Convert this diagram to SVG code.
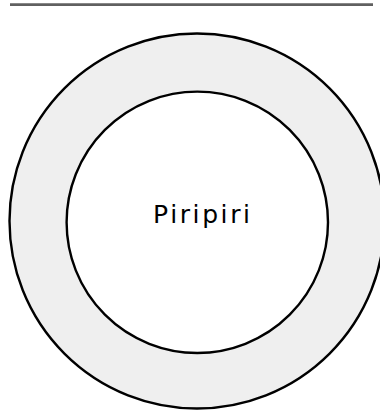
<svg xmlns="http://www.w3.org/2000/svg" width="380" height="410" viewBox="0 0 380 410">
<style>
.ring{fill:#efefef;stroke:#000;stroke-width:2.4}
.core{fill:#fff;stroke:#000;stroke-width:2.4}
.lbl{font-family:"Comic Sans MS","DejaVu Sans",sans-serif;font-size:25px;fill:#000}
</style>
<rect width="380" height="410" fill="#fff"/>
<line x1="10" y1="4.7" x2="373" y2="4.7" stroke="#606060" stroke-width="2.7"/>
<g id="outer">
<circle class="ring" cx="197" cy="221" r="187.5"/>
</g>
<g id="piripiri">
<circle class="core" cx="197.3" cy="222.3" r="130.7"/>
<text class="lbl" x="153" y="223" textLength="97" lengthAdjust="spacing">Piripiri</text>
</g>
<g id="connectors"/>
</svg>
